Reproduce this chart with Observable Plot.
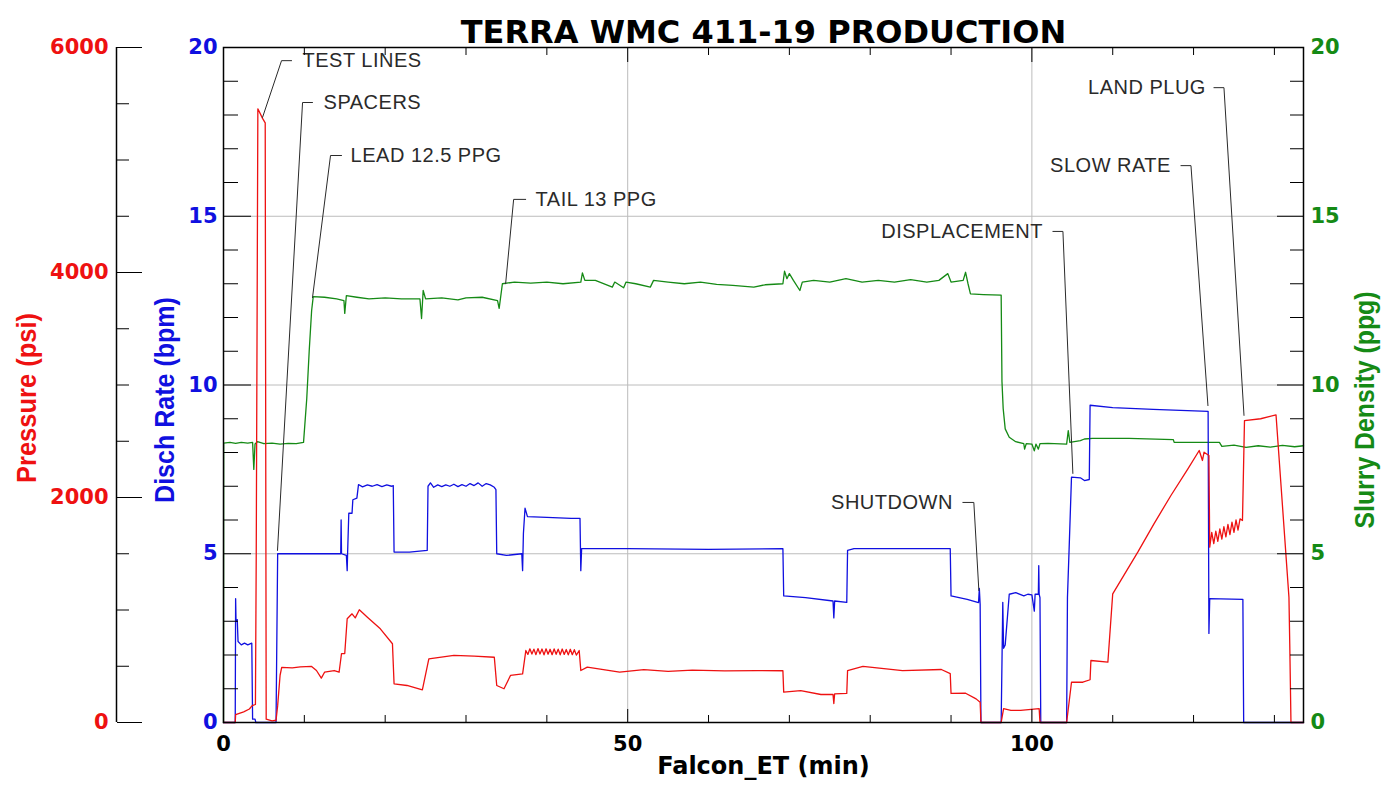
<!DOCTYPE html>
<html>
<head>
<meta charset="utf-8">
<script src="https://cdn.jsdelivr.net/npm/d3@7"></script>
<script src="https://cdn.jsdelivr.net/npm/@observablehq/plot@0.6"></script>
<style>
  html, body { margin: 0; padding: 0; background: #fff; }
</style>
</head>
<body>
<div id="chart"></div>
<script>
// ---------------- DATA ----------------
const chartTitle = "TERRA WMC 411-19 PRODUCTION";
const xTitle = "Falcon_ET (min)";
const pressureTitle = "Pressure (psi)";
const rateTitle = "Disch Rate (bpm)";
const densityTitle = "Slurry Density (ppg)";

// tick values
const xTicks = [0, 50, 100];
const xMinorTicks = [10, 20, 30, 40, 60, 70, 80, 90, 110, 120, 130];
const rateTicks = [0, 5, 10, 15, 20];
const rateMinorTicks = [1, 2, 3, 4, 6, 7, 8, 9, 11, 12, 13, 14, 16, 17, 18, 19];
const densityTicks = [0, 5, 10, 15, 20];
const densityMinorTicks = [1, 2, 3, 4, 6, 7, 8, 9, 11, 12, 13, 14, 16, 17, 18, 19];
const pressureTicks = [0, 2000, 4000, 6000];
const pressureMinorTicks = [500, 1000, 1500, 2500, 3000, 3500, 4500, 5000, 5500];

// Disch Rate (bpm) vs time (min)
const rateT = [0, 1.45, 1.5, 1.55, 1.7, 1.8, 2.2, 2.6, 3.0, 3.5, 3.6, 3.9, 4.0, 6.5, 6.7,
  14.5, 14.55, 14.6, 15.2, 15.3, 15.35, 15.5, 15.9, 16.0, 16.5, 16.7, 17.2, 17.8, 18.4, 19.0, 19.6, 20.2, 20.8, 21.0,
  21.1, 23.0, 25.2, 25.3, 25.6, 26.0, 26.5, 27.0, 27.5, 28.0, 28.5, 29.0, 29.5, 30.0, 30.5, 31.0, 31.5, 32.0, 32.5, 33.0, 33.5, 33.7,
  33.8, 35.0, 36.9, 37.0, 37.1, 37.3, 37.6, 40.0, 43.0, 44.1, 44.2, 44.3, 50, 60, 69.2,
  69.3, 72, 75.4, 75.5, 75.6, 77.1, 77.2, 78, 85, 89.9,
  90.0, 92, 93.4, 93.5, 93.6, 93.7, 96.2, 96.4, 96.5, 96.7, 97.2, 98, 99, 99.5, 100, 100.3, 100.4, 100.8, 100.85, 100.9, 101.0, 101.1,
  104.3, 104.4, 104.6, 104.9, 106, 106.5, 107.1, 107.2, 110, 115, 121.8, 121.9, 122.0, 126.1, 126.2, 133.6];
const rateV = [0, 0, 3.67, 3.0, 3.05, 2.4, 2.3, 2.35, 2.3, 2.35, 0.1, 0.1, 0, 0, 5.0,
  5.0, 6.0, 5.0, 4.95, 4.5, 5.0, 6.2, 6.2, 6.6, 6.65, 7.05, 6.98, 7.04, 7.0, 7.05, 6.99, 7.04, 7.0, 7.02,
  5.05, 5.05, 5.1, 7.0, 7.1, 6.97, 7.04, 6.99, 7.04, 7.0, 7.06, 6.99, 7.05, 7.0, 7.08, 7.02, 7.1, 7.0, 7.08, 7.04, 6.97, 6.9,
  5.0, 4.95, 5.0, 4.5, 5.6, 6.35, 6.1, 6.08, 6.05, 6.05, 4.5, 5.15, 5.15, 5.13, 5.15,
  3.75, 3.7, 3.6, 3.1, 3.6, 3.56, 5.1, 5.15, 5.15, 5.15,
  3.75, 3.65, 3.55, 3.97, 3.5, 0, 0, 3.56, 2.2, 2.3, 3.8, 3.85, 3.75, 3.8, 3.78, 3.3, 3.8, 3.8, 4.65, 3.8, 3.7, 0,
  0, 3.7, 5.1, 7.27, 7.25, 7.17, 7.2, 9.4, 9.33, 9.28, 9.22, 2.64, 3.67, 3.65, 0, 0];

// Pressure (psi) vs time (min)
const pressureT = [0, 1.45, 1.5, 2.5, 3.2, 3.55, 3.95, 4.05, 4.25, 4.83, 5.16, 5.28, 6.0, 6.5, 6.7, 7.0, 7.2, 8.5, 9.5, 10.9,
  11.5, 12.1, 12.5, 13.7, 14.3, 14.6, 15.0, 15.3, 15.9, 16.3, 16.8, 17.8, 19.4, 20.9, 21.1, 22.7, 24.6, 25.4, 28.5, 31, 33.5,
  33.8, 34.7, 35.5, 37, 37.4, 37.65, 37.9, 38.15, 38.4, 38.65, 38.9, 39.15, 39.4, 39.65, 39.9, 40.15, 40.4, 40.65, 40.9,
  41.15, 41.4, 41.65, 41.9, 42.15, 42.4, 42.65, 42.9, 43.15, 43.4, 43.65, 44.0, 44.2, 45.0, 49, 52, 55, 58, 62, 66, 69.2,
  69.3, 71.4, 73.9, 75.4, 75.5, 75.6, 77.1, 77.2, 79.1, 84, 88.8, 89.9, 90.0, 91.8, 93.1, 93.6, 93.7, 96.2, 96.5, 97.4, 98.6,
  100.9, 101.0, 104.3, 104.9, 106.3, 107.2, 107.3, 109.4, 110.0, 113.1, 115.1, 117.2, 119.3, 120.7, 121.1, 121.3, 121.9,
  122.0, 122.25, 122.5, 122.75, 123.0, 123.25, 123.5, 123.75, 124.0, 124.25, 124.5, 124.75, 125.0, 125.25, 125.5, 125.75,
  126.05, 126.3, 128.3, 130.2, 131.8, 131.9, 132.05, 133.6];
const pressureV = [0, 0, 70, 95, 120, 150, 160, 1500, 5455, 5370, 5330, 30, 15, 20, 150, 420, 490, 485, 495, 498,
  462, 394, 447, 462, 447, 613, 613, 922, 966, 930, 1002, 936, 833, 700, 344, 329, 290, 566, 596, 590, 580,
  329, 300, 418, 433, 640, 605, 655, 608, 652, 603, 657, 609, 653, 601, 655, 607, 651, 603, 654,
  606, 652, 602, 653, 605, 649, 601, 651, 603, 647, 599, 640, 462, 492, 447, 470, 455, 465, 458, 462, 460,
  270, 284, 249, 250, 169, 255, 258, 462, 498, 462, 471, 435, 258, 260, 210, 180, 0, 0, 124, 107, 107,
  124, 0, 0, 358, 358, 380, 551, 536, 1144, 1514, 1766, 2018, 2255, 2418, 2329, 2403, 2373,
  1558, 1690, 1590, 1700, 1610, 1720, 1630, 1740, 1650, 1760, 1670, 1780, 1690, 1800, 1710, 1810,
  1796, 2684, 2700, 2735, 1114, 700, 0, 0];

// Slurry Density (ppg) vs time (min)
const densityT = [0, 0.02, 0.8, 1.5, 2.2, 3.0, 3.6, 3.75, 3.9, 4.2, 5.0, 6.0, 7.0, 8.0, 9.0, 9.9, 10.3, 10.6, 10.9, 11.1,
  12.5, 14.0, 14.9, 15.0, 15.2, 16.5, 18, 20, 22, 24.3, 24.5, 24.7, 25.0, 27, 29, 30, 32, 33.9, 34.1, 34.5,
  36, 38, 40, 42, 44.2, 44.4, 44.7, 46, 48.1, 48.4, 49.5, 49.8, 51, 52.8, 53.2, 55, 57, 59, 61, 63, 65.6, 67, 69.2,
  69.4, 69.7, 70, 70.5, 71.3, 71.6, 73, 75, 77, 79, 81, 83, 85, 87, 88.5, 89.6, 90, 91.5, 91.8, 92.1, 92.4, 94, 96.2,
  96.3, 96.45, 96.7, 97.2, 98, 99.0, 99.1, 99.3, 100.0, 100.3, 100.5, 100.8, 101.0, 102, 104.3, 104.5, 104.7, 106.0, 106.5,
  107.5, 112, 117.5, 117.6, 123.2, 123.5, 125, 126.5, 128, 129.5, 131, 132.5, 133.6];
const densityV = [0, 8.28, 8.3, 8.27, 8.3, 8.28, 8.3, 7.5, 8.25, 8.32, 8.26, 8.28, 8.25, 8.27, 8.26, 8.3, 9.6, 11.0, 12.2, 12.62,
  12.6, 12.55, 12.5, 12.12, 12.65, 12.6, 12.55, 12.58, 12.55, 12.55, 11.97, 12.8, 12.55, 12.58, 12.52, 12.58, 12.6, 12.5, 12.27, 13.0,
  13.05, 13.02, 13.05, 13.0, 13.05, 13.32, 13.1, 13.1, 12.9, 13.05, 12.88, 13.05, 13.0, 12.9, 13.1, 13.05, 13.0, 13.05, 12.98, 12.95, 12.9, 12.97, 13.0,
  13.37, 13.15, 13.3, 13.1, 12.8, 13.05, 13.1, 13.05, 13.15, 13.05, 13.1, 13.05, 13.12, 13.05, 13.1, 13.3, 13.05, 13.1, 13.34, 13.0, 12.7, 12.68, 12.66,
  10.1, 9.3, 8.7, 8.45, 8.32, 8.26, 8.1, 8.26, 8.25, 8.05, 8.25, 8.1, 8.26, 8.27, 8.25, 8.65, 8.3, 8.35, 8.4,
  8.42, 8.42, 8.38, 8.3, 8.3, 8.18, 8.22, 8.15, 8.2, 8.16, 8.21, 8.17, 8.2];

// Event annotations (time in min, level on the 0–20 left scale)
const annLabel  = ["TEST LINES", "SPACERS", "LEAD 12.5 PPG", "TAIL 13 PPG", "DISPLACEMENT", "SHUTDOWN", "SLOW RATE", "LAND PLUG"];
const annSide   = ["start", "start", "start", "start", "end", "end", "end", "end"];
const annTextT  = [9.78, 12.38, 15.72, 38.61, 101.36, 90.22, 117.2, 121.53];
const annLevel  = [19.61, 18.37, 16.80, 15.50, 14.55, 6.52, 16.50, 18.81];
const annNearT  = [8.42, 11.01, 14.60, 37.38, 102.6, 91.46, 118.44, 122.52];
const annElbowT = [7.18, 9.78, 13.24, 35.89, 103.84, 92.82, 119.68, 123.76];
const annEndT   = [4.83, 6.68, 11.01, 34.9, 105.07, 93.44, 121.78, 126.24];
const annEndV   = [17.93, 5.10, 12.59, 13.0, 7.38, 3.91, 9.39, 9.10];

// --------------- BUILD ---------------
const PSI_PER_BPM = 300; // 6000 psi shares the height of 20 bpm
const rate = rateT.map((t, i) => ({t, v: rateV[i]}));
const pressure = pressureT.map((t, i) => ({t, p: pressureV[i]}));
const density = densityT.map((t, i) => ({t, v: densityV[i]}));
const leaders = annLabel.flatMap((k, i) => [
  {i, t: annNearT[i], v: annLevel[i]},
  {i, t: annElbowT[i], v: annLevel[i]},
  {i, t: annEndT[i], v: annEndV[i]}
]);
const annIdx = annLabel.map((_, i) => i);

const RED = "#ee1111", BLUE = "#1010e0", GREEN = "#158a15";
const tickFont = {fontSize: 21, fontWeight: "bold", fontFamily: "DejaVu Sans, Verdana, sans-serif"};
const noText = {fill: "none", label: null};
const annFont = {fontSize: 20, fill: "#2a2a2a", fontFamily: "Liberation Sans, Arial, sans-serif"};
const sideTitle = {rotate: -90, text: d => d, fontSize: 28, fontWeight: "bold", textAnchor: "middle", lineAnchor: "middle"};

const chart = Plot.plot({
  width: 1398,
  height: 793,
  marginLeft: 223,
  marginRight: 95,
  marginTop: 47,
  marginBottom: 71,
  style: {background: "#fff", fontFamily: "Liberation Sans, Arial, sans-serif", overflow: "visible"},
  x: {domain: [0, 133.6]},
  y: {domain: [0, 20]},
  marks: [
    Plot.gridY({ticks: [5, 10, 15], stroke: "#bcbcbc", strokeOpacity: 1}),
    Plot.gridX({ticks: [50, 100], stroke: "#bcbcbc", strokeOpacity: 1}),
    Plot.line(density, {x: "t", y: "v", stroke: GREEN, strokeWidth: 1.3}),
    Plot.line(rate, {x: "t", y: "v", stroke: BLUE, strokeWidth: 1.3}),
    Plot.line(pressure, {x: "t", y: d => d.p / PSI_PER_BPM, stroke: RED, strokeWidth: 1.3}),
    Plot.line(leaders, {x: "t", y: "v", z: "i", stroke: "#2a2a2a", strokeWidth: 1}),
    Plot.text(annIdx.filter(i => annSide[i] === "start"), {x: i => annTextT[i], y: i => annLevel[i], text: i => annLabel[i],
      textAnchor: "start", ...annFont}),
    Plot.text(annIdx.filter(i => annSide[i] === "end"), {x: i => annTextT[i], y: i => annLevel[i], text: i => annLabel[i],
      textAnchor: "end", ...annFont}),
    Plot.frame({stroke: "#000", strokeWidth: 1.5}),

    // left rate axis (inside ticks)
    Plot.axisY({anchor: "right", frameAnchor: "left", ticks: rateMinorTicks, tickSize: 14, ...noText}),
    Plot.axisY({anchor: "right", frameAnchor: "left", ticks: rateTicks, tickSize: 27, ...noText}),
    Plot.axisY({anchor: "left", ticks: rateTicks, tickSize: 0, tickPadding: 6, fill: BLUE, label: null, ...tickFont}),

    // outer pressure axis
    Plot.ruleX([0], {dx: -107, stroke: "#000", strokeWidth: 1.5}),
    Plot.axisY({anchor: "right", frameAnchor: "left", dx: -107, ticks: pressureMinorTicks.map(p => p / PSI_PER_BPM), tickSize: 12, ...noText}),
    Plot.axisY({anchor: "right", frameAnchor: "left", dx: -107, ticks: pressureTicks.map(p => p / PSI_PER_BPM), tickSize: 25, ...noText}),
    Plot.axisY({anchor: "left", dx: -107, ticks: pressureTicks.map(p => p / PSI_PER_BPM), tickSize: 0, tickPadding: 8,
      tickFormat: d => String(Math.round(d * PSI_PER_BPM)), fill: RED, label: null, ...tickFont}),

    // right density axis
    Plot.axisY({anchor: "left", frameAnchor: "right", ticks: densityMinorTicks, tickSize: 13, ...noText}),
    Plot.axisY({anchor: "left", frameAnchor: "right", ticks: densityTicks, tickSize: 26, ...noText}),
    Plot.axisY({anchor: "right", ticks: densityTicks, tickSize: 0, tickPadding: 7, fill: GREEN, label: null, ...tickFont}),

    // x axis
    Plot.axisX({anchor: "top", frameAnchor: "bottom", ticks: xMinorTicks, tickSize: 8, ...noText}),
    Plot.axisX({anchor: "top", frameAnchor: "bottom", ticks: xTicks, tickSize: 14, ...noText}),
    Plot.axisX({anchor: "bottom", frameAnchor: "top", ticks: xMinorTicks, tickSize: 8, ...noText}),
    Plot.axisX({anchor: "bottom", frameAnchor: "top", ticks: xTicks, tickSize: 15, ...noText}),
    Plot.axisX({anchor: "bottom", ticks: xTicks, tickSize: 0, tickPadding: 14, fill: "#000", label: null, ...tickFont}),

    // titles
    Plot.text([chartTitle], {frameAnchor: "top", dy: -27, text: d => d, fontSize: 32, fontWeight: "bold",
      fontFamily: "DejaVu Sans, Verdana, sans-serif", fill: "#000"}),
    Plot.text([xTitle], {frameAnchor: "bottom", dy: 51, text: d => d, fontSize: 24, fontWeight: "bold",
      fontFamily: "DejaVu Sans, Verdana, sans-serif", fill: "#000"}),
    Plot.text([pressureTitle], {frameAnchor: "left", dx: -196, dy: 13, fill: RED, ...sideTitle}),
    Plot.text([rateTitle], {frameAnchor: "left", dx: -58, dy: 15, fill: BLUE, ...sideTitle}),
    Plot.text([densityTitle], {frameAnchor: "right", dx: 62, dy: 25, fill: GREEN, ...sideTitle})
  ]
});

document.getElementById("chart").appendChild(chart);

// condense the rotated axis titles (a narrow bold face in the original)
const titleLengths = new Map([[pressureTitle, 170], [rateTitle, 206], [densityTitle, 237]]);
const annSet = new Set(annLabel);
d3.select(chart).selectAll("text").each(function () {
  const len = titleLengths.get(this.textContent);
  if (len) {
    const natural = this.getComputedTextLength();
    const k = natural > 0 ? len / natural : 1;
    const tr = this.getAttribute("transform") || "";
    this.setAttribute("transform", tr + ` scale(${k.toFixed(4)},1)`);
  } else if (annSet.has(this.textContent)) {
    this.style.letterSpacing = "0.5px";
  }
});
</script>
</body>
</html>
